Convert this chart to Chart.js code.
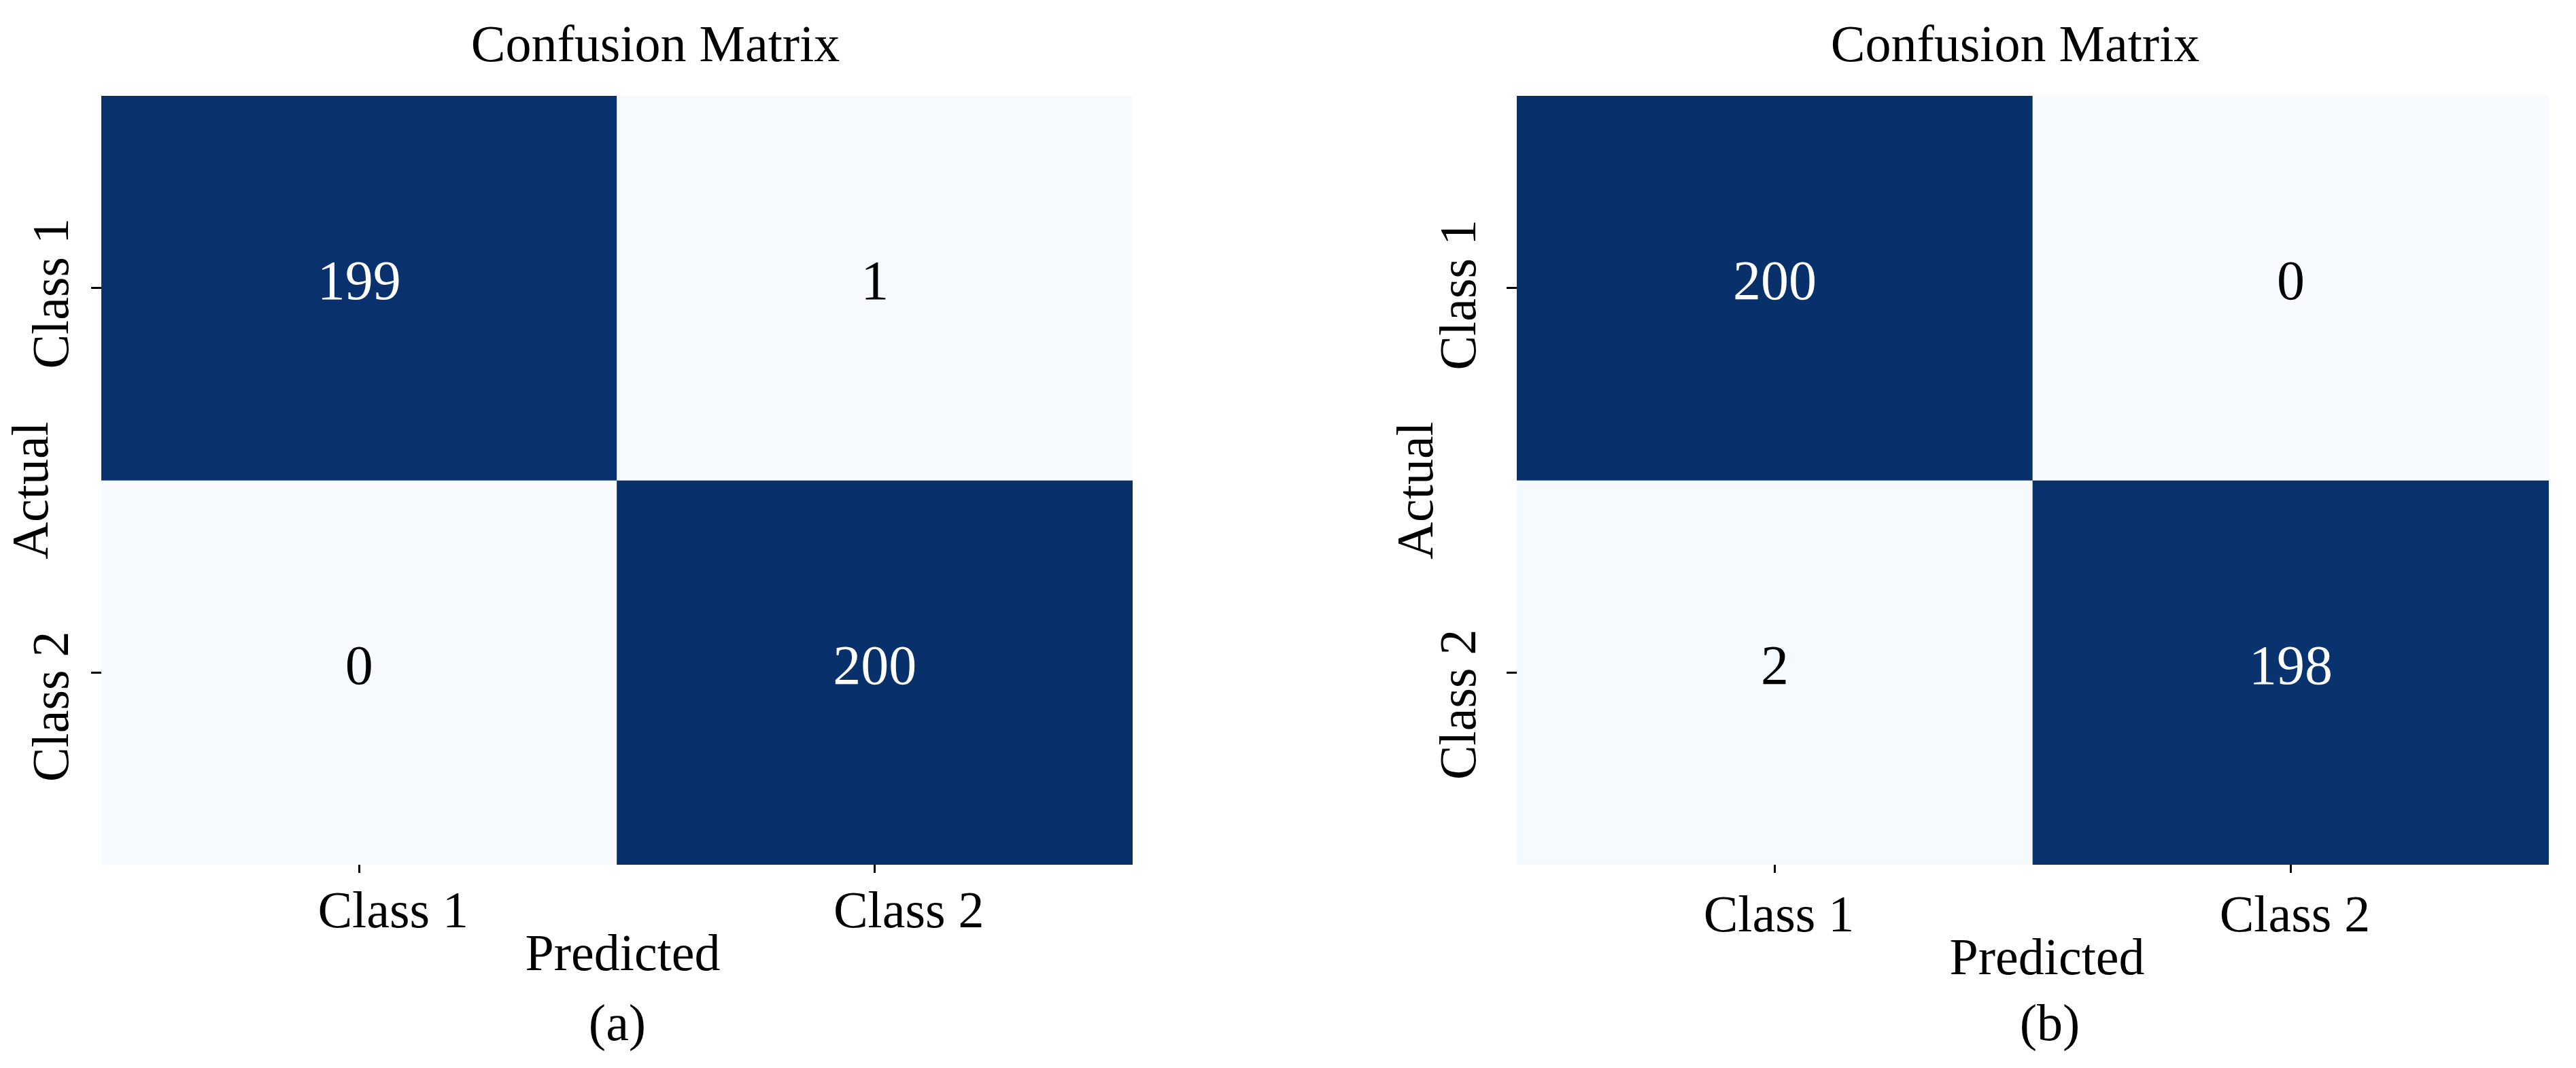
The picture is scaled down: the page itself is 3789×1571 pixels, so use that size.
<!DOCTYPE html>
<html>
<head>
<meta charset="utf-8">
<script src="https://cdn.jsdelivr.net/npm/chart.js@4.4.1/dist/chart.umd.min.js"></script>
<style>
  html, body { margin: 0; padding: 0; background: #fff; }
  body { width: 3789px; height: 1571px; position: relative; overflow: hidden; }
  canvas { position: absolute; top: 0; }
  #cmA { left: 0; }
  #cmB { left: 1895px; }
</style>
</head>
<body>
<canvas id="cmA" width="1895" height="1571"></canvas>
<canvas id="cmB" width="1894" height="1571"></canvas>
<script>
// data: rows = actual class, columns = predicted class
const classes = ["Class 1", "Class 2"]
const cmA = [[199, 1], [0, 200]]
const cmB = [[200, 0], [2, 198]]
const titleText = "Confusion Matrix"
const xTitle = "Predicted"
const yTitle = "Actual"
const captions = ["(a)", "(b)"]

const FONT = "'Liberation Serif', 'Times New Roman', serif"

// matplotlib "Blues"
const blues = ["#f7fbff", "#deebf7", "#c6dbef", "#9ecae1", "#6baed6", "#4292c6", "#2171b5", "#08519c", "#08306b"]

function hex2rgb(h){
    return [1, 3, 5].map(i => parseInt(h.substr(i, 2), 16))
}

function blueFor(v, vmax){
    const t = Math.max(0, Math.min(1, v / vmax)) * (blues.length - 1)
    const i = Math.min(Math.floor(t), blues.length - 2)
    const f = t - i
    const a = hex2rgb(blues[i]), b = hex2rgb(blues[i + 1])
    const c = a.map((x, k) => Math.round(x + (b[k] - x) * f))
    return `rgb(${c[0]},${c[1]},${c[2]})`
}

// draws title, axis titles, rotated y tick labels, caption and cell values
const panelText = {
    id: "panelText",
    afterDraw(chart, args, o){
        const ctx = chart.ctx
        const area = chart.chartArea
        const ys = chart.scales.y
        const vmax = o.vmax

        ctx.save()
        ctx.fillStyle = "#000"
        ctx.font = `76px ${FONT}`
        ctx.textAlign = "center"
        ctx.textBaseline = "alphabetic"

        ctx.fillText(titleText, o.titleX, 90)
        ctx.fillText(xTitle, o.xTitleX, o.xTitleY)
        ctx.fillText(o.caption, o.captionX, 1530)

        // y axis: rotated tick labels and title
        classes.forEach((lab, i) => {
            const y = ys.getPixelForValue(i + 0.5) + o.yShift[i]
            ctx.save()
            ctx.translate(o.yLabelX, y)
            ctx.rotate(-Math.PI / 2)
            ctx.fillText(lab, 0, 0)
            ctx.restore()
        })
        ctx.save()
        ctx.translate(o.yTitleX, (area.top + area.bottom) / 2 + 15)
        ctx.rotate(-Math.PI / 2)
        ctx.fillText(yTitle, 0, 0)
        ctx.restore()

        // cell annotations
        ctx.font = `82px ${FONT}`
        ctx.textBaseline = "middle"
        chart.data.datasets.forEach((ds, r) => {
            chart.getDatasetMeta(r).data.forEach((bar, c) => {
                const v = ds.values[c]
                ctx.fillStyle = v > vmax / 2 ? "#fff" : "#000"
                ctx.fillText(String(v), bar.x, (bar.y + bar.base) / 2 - 5)
            })
        })
        ctx.restore()
    }
}

function makeChart(id, cm, opts){
    const vmax = Math.max(...cm.flat())

    const datasets = cm.map((row, r) => ({
        label: classes[r],
        data: row.map(() => [r, r + 1]),
        values: row,
        backgroundColor: row.map(v => blueFor(v, vmax)),
        borderWidth: 0,
        grouped: false,
        barPercentage: 1,
        categoryPercentage: 1
    }))

    return new Chart(document.getElementById(id), {
        type: "bar",
        data: {
            labels: classes,
            datasets: datasets
        },
        options: {
            responsive: false,
            animation: false,
            events: [],
            layout: {
                padding: { left: opts.padLeft, right: opts.padRight, top: 141, bottom: 149 }
            },
            scales: {
                x: {
                    type: "category",
                    offset: true,
                    grid: {
                        offset: false,
                        drawOnChartArea: false,
                        drawTicks: true,
                        tickLength: 12,
                        tickWidth: 3,
                        tickColor: "#000"
                    },
                    border: { display: false },
                    ticks: {
                        color: "#000",
                        font: { family: FONT, size: 76 },
                        padding: opts.xPad,
                        labelOffset: opts.labelOffset,
                        maxRotation: 0
                    },
                    afterFit: s => { s.height = 150 }
                },
                y: {
                    type: "linear",
                    min: 0,
                    max: 2,
                    reverse: true,
                    afterBuildTicks: s => { s.ticks = [{ value: 0.5 }, { value: 1.5 }] },
                    grid: {
                        drawOnChartArea: false,
                        drawTicks: true,
                        tickLength: 15,
                        tickWidth: 3,
                        tickColor: "#000"
                    },
                    border: { display: false },
                    ticks: { display: false },
                    afterFit: s => { s.width = 15 }
                }
            },
            plugins: {
                legend: { display: false },
                tooltip: { enabled: false },
                title: { display: false },
                panelText: Object.assign({ vmax: vmax }, opts.text)
            }
        },
        plugins: [panelText]
    })
}

makeChart("cmA", cmA, {
    padLeft: 134, padRight: 229, xPad: 14, labelOffset: 50,
    text: {
        titleX: 964, xTitleX: 916, xTitleY: 1427,
        caption: captions[0], captionX: 908,
        yLabelX: 100, yTitleX: 70, yShift: [8, 50]
    }
})

makeChart("cmB", cmB, {
    padLeft: 321, padRight: 40, xPad: 20, labelOffset: 6,
    text: {
        titleX: 1069, xTitleX: 1116, xTitleY: 1433,
        caption: captions[1], captionX: 1120,
        yLabelX: 275, yTitleX: 212, yShift: [10, 47]
    }
})
</script>
</body>
</html>
